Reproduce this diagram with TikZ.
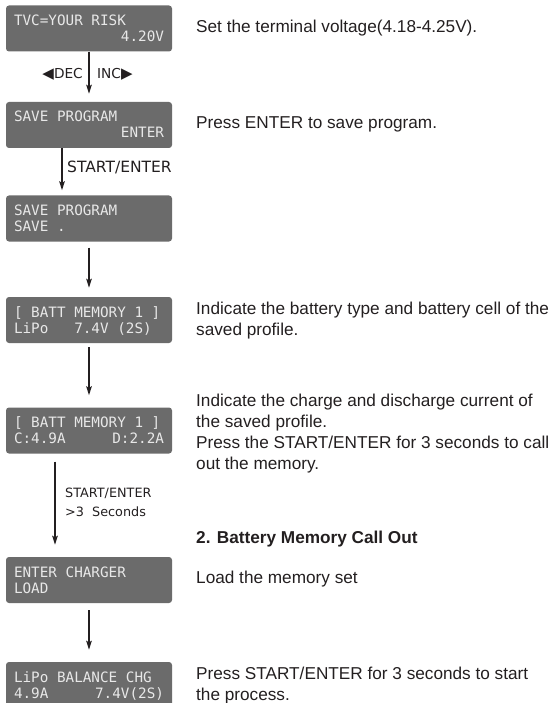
\documentclass[tikz,border=0pt]{standalone}
\usepackage{fontspec}
\setmainfont{Liberation Sans}
\newfontfamily\lcdfont{DejaVu Sans Mono}
\newfontfamily\lblfont{DejaVu Sans}
\usetikzlibrary{arrows.meta}
\definecolor{lcdgray}{HTML}{6B6B6B}
\definecolor{lcdtxt}{HTML}{E8E8E8}
\definecolor{ink}{HTML}{231F20}
\newcommand\lcdrow[2]{\hbox to 150pt{\vrule height 13pt depth 3pt width 0pt\relax #1\hfil #2}}
\newcommand\lcdbody[4]{\vbox{\baselineskip=16pt\lineskiplimit=-10pt\lcdrow{#1}{#2}\lcdrow{#3}{#4}}}
\newcommand\tri[1]{{\fontsize{15}{15}\selectfont #1}}
\tikzset{
  lcd/.style={fill=lcdgray, rounded corners=3pt, minimum width=166pt, minimum height=46pt,
    inner sep=0pt, text=lcdtxt, font=\lcdfont\fontsize{14.3}{16}\selectfont},
  desc/.style={anchor=base west, inner sep=0pt, text=ink, font=\fontsize{17.2}{21}\selectfont},
  arr/.style={-{Stealth[length=9pt,width=5.5pt,inset=1.5pt]}, line width=1.3pt, draw=ink},
  lbl/.style={inner sep=0pt, text=ink, font=\lblfont\fontsize{13.7}{16}\selectfont},
}
\begin{document}
\begin{tikzpicture}[x=1pt,y=-1pt]
\useasboundingbox (0,0) rectangle (554,703);
\clip (0,0) rectangle (554,703);

% LCD screens
\node[lcd] (b1) at (89,28.5) {\lcdbody{TVC=YOUR RISK}{}{}{4.20V}};
\node[lcd] (b2) at (89,125) {\lcdbody{SAVE PROGRAM}{}{}{ENTER}};
\node[lcd] (b3) at (89,218.5) {\lcdbody{SAVE PROGRAM}{}{SAVE\ .}{}};
\node[lcd] (b4) at (89,320) {\lcdbody{[ BATT MEMORY 1 ]}{}{LiPo\ \ \ 7.4V (2S)}{}};
\node[lcd] (b5) at (89,430.5) {\lcdbody{[ BATT MEMORY 1 ]}{}{C:4.9A}{D:2.2A}};
\node[lcd] (b6) at (89,580) {\lcdbody{ENTER CHARGER}{}{LOAD}{}};
\node[lcd] (b7) at (89,685) {\lcdbody{LiPo BALANCE CHG}{}{4.9A}{7.4V(2S)}};

% connectors
\draw[arr, shorten >=8pt] (b1.south) -- (b2.north);
\draw[arr, shorten >=5pt] ([xshift=-27pt]b2.south) -- ([xshift=-27pt]b3.north);
\draw[arr, shorten <=6pt, shorten >=9pt] (b3.south) -- (b4.north);
\draw[arr, shorten <=4pt, shorten >=12pt] (b4.south) -- (b5.north);
\draw[arr, shorten <=8pt, shorten >=12pt] ([xshift=-34pt]b5.south) -- ([xshift=-34pt]b6.north);
\draw[arr, shorten <=7pt, shorten >=12pt] (b6.south) -- (b7.north);

% connector labels
\node[lbl, anchor=base east] (dec) at (83,79) {\tri{◀}DEC};
\node[lbl, anchor=base west] (inc) at (97,79) {INC\tri{▶}};
\node[lbl, anchor=base west, font=\lblfont\fontsize{15.5}{18}\selectfont] (se1) at (67,173) {START/ENTER};
\node[lbl, anchor=base west, font=\lblfont\fontsize{12.8}{15}\selectfont] (se2) at (65,497) {START/ENTER};
\node[lbl, anchor=base west, font=\lblfont\fontsize{12.8}{15}\selectfont] (sec) at (65,516) {>3\ \ Seconds};

% descriptions
\node[desc] (t1) at (196,33) {Set the terminal voltage(4.18-4.25V).};
\node[desc] (t2) at (196,129) {Press ENTER to save program.};
\node[desc] (t3a) at (196,314) {Indicate the battery type and battery cell of the};
\node[desc] (t3b) at (196,335) {saved profile.};
\node[desc] (t4a) at (196,406.5) {Indicate the charge and discharge current of};
\node[desc] (t4b) at (196,427.5) {the saved profile.};
\node[desc] (t4c) at (196,448) {Press the START/ENTER for 3 seconds to call};
\node[desc] (t4d) at (196,469) {out the memory.};
\node[desc, font=\bfseries\fontsize{17.2}{21}\selectfont] (h2) at (196,543) {2. Battery Memory Call Out};
\node[desc] (t5) at (196,583) {Load the memory set};
\node[desc] (t6a) at (196,679) {Press START/ENTER for 3 seconds to start};
\node[desc] (t6b) at (196,700) {the process.};
\end{tikzpicture}
\end{document}
